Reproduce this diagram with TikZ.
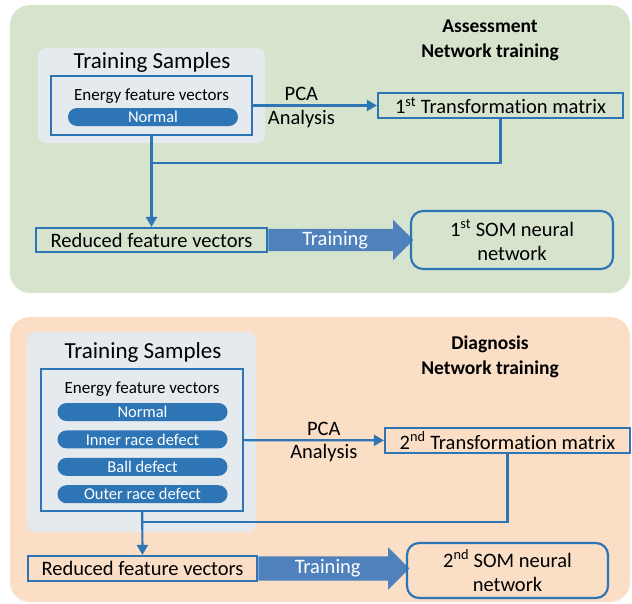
\documentclass[tikz,border=0pt]{standalone}
\usepackage{fontspec}
\setmainfont{Carlito}[Ligatures=NoCommon]
\usetikzlibrary{positioning,shapes.arrows,arrows.meta}
\definecolor{panelgreen}{RGB}{214,228,206}
\definecolor{panelorange}{RGB}{250,222,198}
\definecolor{samplegray}{RGB}{229,234,238}
\definecolor{lineblue}{RGB}{46,117,182}
\definecolor{arrowblue}{RGB}{79,129,189}
\begin{document}
\begin{tikzpicture}[x=1pt, y=-1pt, font=\fontsize{20.5}{24}\selectfont,
    panel/.style = {rounded corners=20pt},
    samplebox/.style = {fill=samplegray, rounded corners=8pt},
    bluebox/.style = {draw=lineblue, line width=2.2pt, inner sep=0pt},
    pill/.style = {fill=lineblue, rounded corners=9pt, minimum width=170pt, minimum height=18pt, inner sep=0pt, text=white, font=\fontsize{16.5}{18}\selectfont},
    main/.style = {draw=lineblue, line width=2.2pt, minimum height=25pt, inner sep=0pt},
    som/.style = {main, rounded corners=12pt, align=center},
    train/.style = {single arrow, fill=arrowblue, text=white, single arrow head extend=9pt, single arrow tip angle=90, single arrow head indent=0pt, text height=13pt, text depth=3pt, inner ysep=3pt, inner xsep=0pt, anchor=west},
    link/.style = {draw=lineblue, line width=2.2pt},
    tiparrow/.style = {-{Triangle[length=10pt,width=11pt]}},
    titletext/.style = {font=\bfseries\fontsize{19.5}{25}\selectfont, align=center}]
    \useasboundingbox (0,0) rectangle (632,603);

    \fill[panelgreen, panel] (10,5) rectangle (630,293);
    \fill[panelorange, panel] (10,317) rectangle (630,602);
    \fill[samplebox] (38,48) rectangle (265,143);
    \fill[samplebox] (27,332) rectangle (256,532);

    \node[titletext] (t1) at (490,40) {Assessment\\Network training};
    \node[font=\fontsize{23}{26}\selectfont] (ts1) at (152,62) {Training Samples};
    \node[bluebox, minimum width=201pt, minimum height=59pt] (box1) at (151.5,105.5) {};
    \node[font=\fontsize{17}{19}\selectfont] (ev1) at (151.5,96) {Energy feature vectors};
    \node[pill] (n1) at (153,117) {Normal};
    \node[main, minimum width=245pt] (tm1) at (500.5,105.5) {1\textsuperscript{st} Transformation matrix};
    \node[main, minimum width=231pt, minimum height=24pt] (red1) at (151.5,240) {Reduced feature vectors};
    \node[train, minimum height=145pt] (tr1) at (red1.east) {Training};
    \node[som, minimum width=202pt, minimum height=58pt] (som1) at (512,240) {1\textsuperscript{st} SOM neural\\network};
    \coordinate (j1) at (151.5,163);

    \draw[link, tiparrow] (box1) -- node[pos=0.39, above] {PCA} node[pos=0.39, below] {Analysis} (tm1);
    \draw[link, tiparrow] (box1) -- (red1);
    \draw[link] (tm1) |- (j1);

    \node[titletext] (t2) at (490,357) {Diagnosis\\Network training};
    \node[font=\fontsize{23}{26}\selectfont] (ts2) at (143,352) {Training Samples};
    \node[bluebox, minimum width=202pt, minimum height=142pt] (box2) at (142,440) {};
    \node[font=\fontsize{17}{19}\selectfont] (ev2) at (142,389) {Energy feature vectors};
    \node[pill] (n2) at (142.5,412) {Normal};
    \node[pill, below=9pt of n2] (ir2) {Inner race defect};
    \node[pill, below=9pt of ir2] (bd2) {Ball defect};
    \node[pill, below=9pt of bd2] (or2) {Outer race defect};
    \node[main, minimum width=245pt] (tm2) at (507.5,440.5) {2\textsuperscript{nd} Transformation matrix};
    \node[main, minimum width=229pt] (red2) at (142.5,568.5) {Reduced feature vectors};
    \node[train, minimum height=151pt, inner ysep=4pt] (tr2) at (red2.east) {Training};
    \node[som, minimum width=201pt, minimum height=55pt] (som2) at (507.5,570.5) {2\textsuperscript{nd} SOM neural\\network};
    \coordinate (j2) at (142,522);

    \draw[link, tiparrow] (box2) -- node[pos=0.57, above] {PCA} node[pos=0.57, below] {Analysis} (tm2);
    \draw[link, tiparrow] (box2) -- (red2);
    \draw[link] (tm2) |- (j2);
\end{tikzpicture}
\end{document}
